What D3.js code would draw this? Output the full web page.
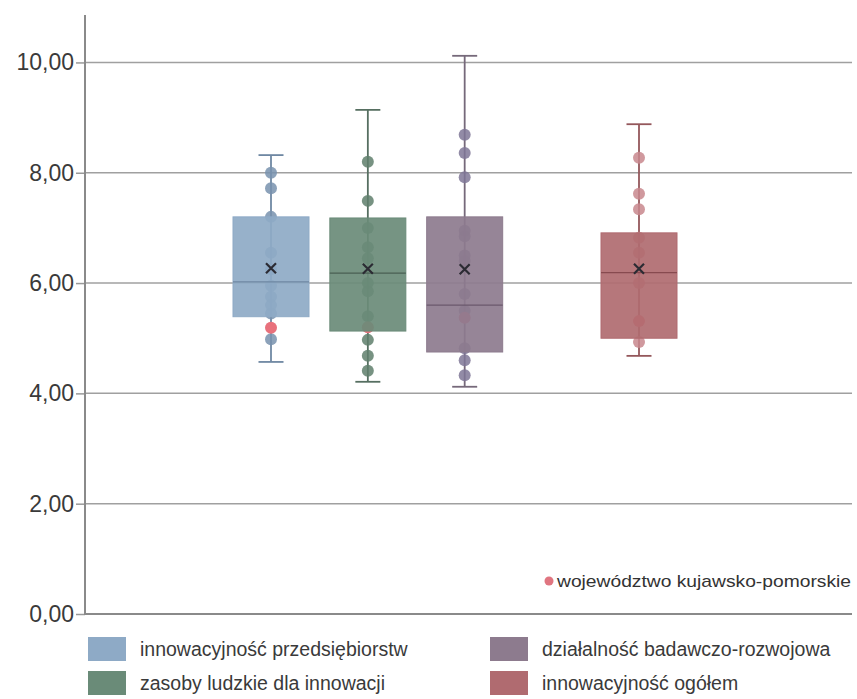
<!DOCTYPE html>
<html>
<head>
<meta charset="utf-8">
<script src="https://cdn.jsdelivr.net/npm/d3@7"></script>
<style>
  body { margin: 0; background: #fff; }
  svg { display: block; font-family: "Liberation Sans", Arial, sans-serif; }
</style>
</head>
<body>
<svg id="chart" width="857" height="699"></svg>
<script>
// ---- data ----
const categories = ["innowacyjność przedsiębiorstw", "zasoby ludzkie dla innowacji", "działalność badawczo-rozwojowa", "innowacyjność ogółem"];
const whiskerMin = [4.57, 4.21, 4.12, 4.68];
const q1 = [5.39, 5.13, 4.75, 5.00];
const median = [6.02, 6.18, 5.60, 6.19];
const q3 = [7.20, 7.18, 7.20, 6.91];
const whiskerMax = [8.32, 9.14, 10.12, 8.88];
const means = [6.27, 6.26, 6.25, 6.26];
const pointsInnowPrzeds = [8.00, 7.72, 7.20, 6.55, 6.25, 5.95, 5.75, 5.60, 5.45, 4.98];
const pointsZasoby = [8.20, 7.49, 7.00, 6.65, 6.45, 6.00, 5.85, 5.40, 4.97, 4.68, 4.41];
const pointsBR = [8.69, 8.36, 7.92, 6.95, 6.85, 6.50, 6.40, 5.80, 5.50, 4.82, 4.60, 4.33];
const pointsOgolem = [8.27, 7.62, 7.34, 6.82, 6.55, 6.00, 4.93];
const points = [pointsInnowPrzeds, pointsZasoby, pointsBR, pointsOgolem];
const kujawskoPomorskie = [5.19, 5.20, 5.37, 5.31];
const yTicks = [0, 2, 4, 6, 8, 10];
const highlightLabel = "województwo kujawsko-pomorskie";

// ---- styles ----
const boxFill = ["#8eaac6", "#6a8b78", "#8d7b8e", "#b06b70"];
const dotFill = ["#7892ae", "#5f7f6c", "#7f7796", "#c8878d"];
const lineCol = ["#6f88a3", "#566f61", "#76697a", "#94575b"];
const medCol = ["#6e87a2", "#4a5f53", "#6a596c", "#874a4f"];
const slot = [0, 1, 2, 3.8]; // horizontal layout slot of each box

const svg = d3.select("#chart");
const pLeft = 85, pRight = 852, pTop = 15, pBottom = 614;

const y = d3.scaleLinear().domain([0, 10.86]).range([pBottom, pTop]);
const x = d3.scaleLinear().domain([0, 3.8]).range([271, 639]);
const boxW = 76, capW = 25, r = 6;

// gridlines
svg.append("g").selectAll("line").data(yTicks.filter(t => t > 0)).join("line")
  .attr("x1", pLeft).attr("x2", pRight)
  .attr("y1", d => y(d)).attr("y2", d => y(d))
  .attr("stroke", "#a0a0a0").attr("stroke-width", 1.5);

// y axis
const yAxis = d3.axisLeft(y).tickValues(yTicks).tickSize(9).tickPadding(2)
  .tickFormat(d => d3.format(".2f")(d).replace(".", ","));
const ga = svg.append("g").attr("transform", `translate(${pLeft},0)`).call(yAxis);
ga.select(".domain").remove();
ga.selectAll(".tick line").attr("stroke", "#999").attr("stroke-width", 1.5);
ga.selectAll(".tick text").attr("font-size", 23).attr("fill", "#3a3a3a")
  .attr("font-family", "'Liberation Sans', Arial, sans-serif");
svg.append("line").attr("x1", pLeft).attr("x2", pLeft).attr("y1", pTop).attr("y2", pBottom)
  .attr("stroke", "#8a8a8a").attr("stroke-width", 2);
svg.append("line").attr("x1", pLeft - 1).attr("x2", pRight).attr("y1", pBottom).attr("y2", pBottom)
  .attr("stroke", "#8a8a8a").attr("stroke-width", 2);

categories.forEach((c, i) => {
  const cx = x(slot[i]);
  const g = svg.append("g");
  // whisker line
  g.append("line").attr("x1", cx).attr("x2", cx)
    .attr("y1", y(whiskerMax[i])).attr("y2", y(whiskerMin[i]))
    .attr("stroke", lineCol[i]).attr("stroke-width", 1.8);
  [whiskerMax[i], whiskerMin[i]].forEach(v => {
    g.append("line").attr("x1", cx - capW / 2).attr("x2", cx + capW / 2)
      .attr("y1", y(v)).attr("y2", y(v))
      .attr("stroke", lineCol[i]).attr("stroke-width", 1.8);
  });
  // points
  g.selectAll("circle.pt").data(points[i]).join("circle").attr("class", "pt")
    .attr("cx", cx).attr("cy", d => y(d)).attr("r", r)
    .attr("fill", dotFill[i]).attr("fill-opacity", 0.85);
  g.append("circle").attr("cx", cx).attr("cy", y(kujawskoPomorskie[i])).attr("r", r)
    .attr("fill", "#e8717c");
  // box over the points
  g.append("rect").attr("x", cx - boxW / 2).attr("width", boxW)
    .attr("y", y(q3[i])).attr("height", y(q1[i]) - y(q3[i]))
    .attr("fill", boxFill[i]).attr("fill-opacity", 0.92)
    .attr("stroke", boxFill[i]).attr("stroke-width", 1);
  // median
  g.append("line").attr("x1", cx - boxW / 2).attr("x2", cx + boxW / 2)
    .attr("y1", y(median[i])).attr("y2", y(median[i]))
    .attr("stroke", medCol[i]).attr("stroke-width", 1.3);
  // mean marker
  const my = y(means[i]), s = 5;
  g.append("path")
    .attr("d", `M${cx - s},${my - s}L${cx + s},${my + s}M${cx + s},${my - s}L${cx - s},${my + s}`)
    .attr("stroke", "#2b2b33").attr("stroke-width", 2.2);
});

// in-plot legend for highlighted region
svg.append("circle").attr("cx", 549).attr("cy", 581).attr("r", 4.5).attr("fill", "#e07580");
svg.append("text").attr("x", 557).attr("y", 587).attr("font-size", 17).attr("fill", "#333")
  .attr("textLength", 294).attr("lengthAdjust", "spacingAndGlyphs")
  .text(highlightLabel);

// bottom legend
const legPos = [[88, 637], [88, 671], [490, 637], [490, 671]];
categories.forEach((c, i) => {
  const [lx, ly] = legPos[i];
  svg.append("rect").attr("x", lx).attr("y", ly).attr("width", 38).attr("height", 24)
    .attr("fill", boxFill[i]);
  svg.append("text").attr("x", lx + 52).attr("y", ly + 19).attr("font-size", 19.5)
    .attr("fill", "#3a3a3a").text(c);
});
</script>
</body>
</html>
